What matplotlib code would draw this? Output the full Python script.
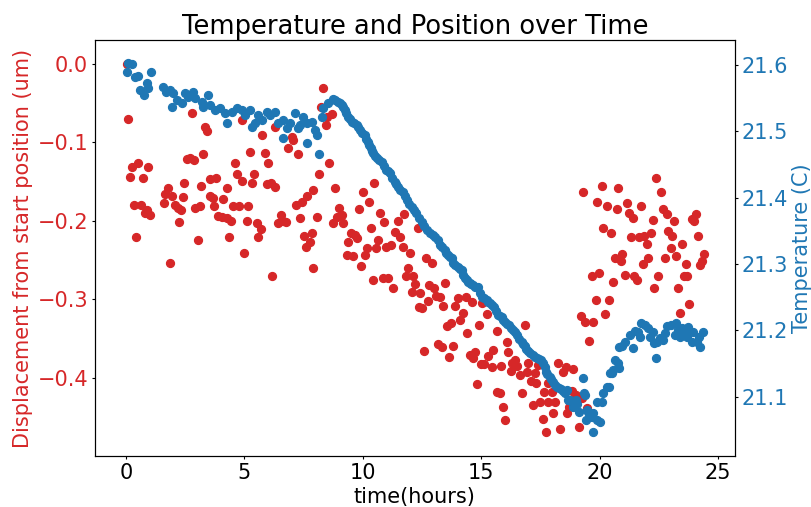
#!/usr/bin/env python3
"""Displacement and temperature logged over one day, on twin y axes."""

import matplotlib

matplotlib.use("Agg")
import matplotlib.pyplot as plt


# ---------------------------------------------------------------------------
# Data read off the logged run.
# ---------------------------------------------------------------------------
disp_time_h = [
    0.04, 0.08, 0.17, 0.25, 0.34, 0.42, 0.51, 0.63, 0.72, 0.80, 0.89, 0.93, 1.01,
    1.60, 1.65, 1.77, 1.86, 1.94, 2.07, 2.20, 2.24, 2.32, 2.41, 2.45, 2.57, 2.70,
    2.79, 2.87, 2.91, 3.04, 3.12, 3.17, 3.25, 3.33, 3.42, 3.55, 3.55, 3.67, 3.71,
    3.80, 3.88, 4.05, 4.09, 4.26, 4.26, 4.35, 4.43, 4.52, 4.60, 4.69, 4.77, 4.90,
    4.90, 4.98, 5.11, 5.15, 5.23, 5.32, 5.40, 5.53, 5.57, 5.70, 5.74, 5.87, 5.95,
    5.99, 6.12, 6.16, 6.29, 6.29, 6.42, 6.54, 6.63, 6.75, 6.84, 7.01, 7.05, 7.18,
    7.26, 7.34, 7.43, 7.51, 7.60, 7.64, 7.77, 7.85, 7.89, 7.89, 8.06, 8.15, 8.23,
    8.32, 8.44, 8.48, 8.57, 8.70, 8.74, 8.82, 8.91, 8.99, 9.12, 9.16, 9.33, 9.37,
    9.50, 9.58, 9.67, 9.75, 9.84, 9.92, 10.01, 10.09, 10.17, 10.26, 10.34, 10.43,
    10.47, 10.55, 10.64, 10.72, 10.85, 10.89, 10.98, 11.06, 11.19, 11.27, 11.35,
    11.48, 11.57, 11.69, 11.73, 11.82, 11.90, 11.99, 12.07, 12.11, 12.20, 12.33,
    12.37, 12.41, 12.49, 12.58, 12.66, 12.75, 12.79, 12.92, 13.00, 13.09, 13.17,
    13.25, 13.34, 13.38, 13.47, 13.55, 13.63, 13.72, 13.80, 13.89, 14.01, 14.10,
    14.23, 14.35, 14.39, 14.52, 14.61, 14.65, 14.73, 14.82, 14.90, 14.99, 15.03,
    15.11, 15.24, 15.28, 15.45, 15.49, 15.66, 15.66, 15.79, 15.83, 15.91, 16.00,
    16.08, 16.12, 16.25, 16.29, 16.42, 16.50, 16.63, 16.72, 16.84, 16.93, 16.97,
    17.10, 17.18, 17.26, 17.31, 17.39, 17.48, 17.60, 17.65, 17.73, 17.81, 17.81,
    17.98, 18.02, 18.11, 18.24, 18.32, 18.45, 18.57, 18.62, 18.70, 18.83, 18.87,
    19.00, 19.12, 19.21, 19.25, 19.29, 19.38, 19.46, 19.54, 19.67, 19.71, 19.84,
    19.88, 19.97, 20.09, 20.13, 20.22, 20.30, 20.39, 20.47, 20.56, 20.64, 20.73,
    20.77, 20.90, 20.94, 21.07, 21.15, 21.23, 21.32, 21.40, 21.44, 21.57, 21.66,
    21.74, 21.82, 21.87, 21.99, 22.04, 22.16, 22.25, 22.29, 22.37, 22.46, 22.59,
    22.67, 22.75, 22.84, 22.88, 23.01, 23.05, 23.13, 23.22, 23.30, 23.39, 23.47,
    23.55, 23.64, 23.68, 23.76, 23.89, 23.97, 24.06, 24.14, 24.23, 24.31, 24.40,
]

displacement_um = [
    0.000, -0.070, -0.144, -0.131, -0.180, -0.221, -0.126, -0.180, -0.145, -0.190,
    -0.186, -0.131, -0.193, -0.177, -0.166, -0.158, -0.254, -0.168, -0.180, -0.184,
    -0.202, -0.186, -0.170, -0.152, -0.121, -0.120, -0.063, -0.123, -0.184, -0.224,
    -0.181, -0.156, -0.115, -0.081, -0.086, -0.147, -0.168, -0.171, -0.181, -0.145,
    -0.194, -0.195, -0.172, -0.158, -0.196, -0.221, -0.200, -0.181, -0.126, -0.140,
    -0.181, -0.072, -0.149, -0.241, -0.200, -0.181, -0.112, -0.152, -0.140, -0.203,
    -0.221, -0.210, -0.091, -0.114, -0.153, -0.126, -0.152, -0.270, -0.081, -0.157,
    -0.203, -0.193, -0.200, -0.202, -0.107, -0.093, -0.097, -0.180, -0.115, -0.196,
    -0.176, -0.219, -0.233, -0.168, -0.227, -0.216, -0.161, -0.260, -0.195, -0.140,
    -0.055, -0.031, -0.078, -0.068, -0.126, -0.064, -0.203, -0.158, -0.195, -0.184,
    -0.193, -0.203, -0.244, -0.227, -0.216, -0.245, -0.218, -0.222, -0.185, -0.257,
    -0.163, -0.244, -0.235, -0.176, -0.209, -0.275, -0.152, -0.235, -0.224, -0.190,
    -0.273, -0.202, -0.233, -0.273, -0.231, -0.286, -0.214, -0.200, -0.221, -0.233,
    -0.191, -0.271, -0.260, -0.241, -0.291, -0.271, -0.281, -0.209, -0.310, -0.292,
    -0.311, -0.366, -0.247, -0.302, -0.282, -0.254, -0.286, -0.296, -0.357, -0.297,
    -0.361, -0.308, -0.279, -0.334, -0.373, -0.330, -0.359, -0.308, -0.298, -0.326,
    -0.317, -0.297, -0.343, -0.371, -0.303, -0.375, -0.367, -0.408, -0.333, -0.382,
    -0.305, -0.383, -0.319, -0.372, -0.386, -0.365, -0.340, -0.418, -0.419, -0.385,
    -0.437, -0.454, -0.354, -0.367, -0.391, -0.381, -0.377, -0.385, -0.396, -0.419,
    -0.333, -0.393, -0.381, -0.404, -0.435, -0.394, -0.407, -0.384, -0.431, -0.452,
    -0.418, -0.469, -0.407, -0.431, -0.418, -0.445, -0.431, -0.381, -0.465, -0.393,
    -0.386, -0.445, -0.437, -0.417, -0.389, -0.422, -0.463, -0.321, -0.426, -0.163,
    -0.329, -0.438, -0.353, -0.270, -0.329, -0.301, -0.176, -0.267, -0.156, -0.209,
    -0.319, -0.181, -0.301, -0.216, -0.278, -0.247, -0.185, -0.158, -0.251, -0.242,
    -0.269, -0.177, -0.190, -0.221, -0.196, -0.271, -0.275, -0.221, -0.181, -0.255,
    -0.219, -0.230, -0.247, -0.216, -0.199, -0.286, -0.145, -0.270, -0.163, -0.185,
    -0.247, -0.191, -0.213, -0.235, -0.219, -0.200, -0.245, -0.286, -0.317, -0.230,
    -0.270, -0.255, -0.270, -0.306, -0.198, -0.200, -0.191, -0.219, -0.256, -0.251,
    -0.242,
]

temp_time_h = [
    0.04, 0.08, 0.25, 0.38, 0.51, 0.59, 0.76, 0.89, 0.93, 1.06, 1.56, 1.69, 1.86,
    1.94, 1.98, 2.15, 2.36, 2.49, 2.62, 2.83, 2.91, 3.21, 3.25, 3.46, 3.55, 3.76,
    3.97, 4.18, 4.26, 4.47, 4.69, 4.90, 5.02, 5.23, 5.32, 5.45, 5.57, 5.74, 5.95,
    6.08, 6.29, 6.42, 6.63, 6.63, 6.80, 6.92, 7.13, 7.26, 7.34, 7.47, 7.64, 7.64,
    7.85, 7.98, 8.06, 8.15, 8.27, 8.32, 8.53, 8.74, 8.84, 8.95, 9.03, 9.12, 9.18,
    9.24, 9.30, 9.37, 9.45, 9.54, 9.64, 9.75, 9.81, 9.88, 9.98, 10.09, 10.15,
    10.22, 10.28, 10.34, 10.39, 10.43, 10.51, 10.60, 10.70, 10.81, 10.90, 10.98,
    11.06, 11.14, 11.25, 11.35, 11.41, 11.48, 11.58, 11.69, 11.77, 11.86, 11.96,
    12.07, 12.15, 12.24, 12.36, 12.49, 12.60, 12.71, 12.83, 12.96, 13.06, 13.17,
    13.25, 13.36, 13.47, 13.53, 13.59, 13.68, 13.76, 13.80, 13.90, 14.01, 14.10,
    14.18, 14.23, 14.31, 14.39, 14.45, 14.52, 14.58, 14.65, 14.75, 14.86, 14.94,
    15.03, 15.13, 15.24, 15.30, 15.37, 15.45, 15.53, 15.61, 15.70, 15.78, 15.87,
    15.94, 16.00, 16.08, 16.17, 16.25, 16.34, 16.42, 16.50, 16.61, 16.72, 16.78,
    16.84, 16.90, 16.97, 17.07, 17.18, 17.26, 17.35, 17.43, 17.52, 17.60, 17.69,
    17.73, 17.80, 17.90, 17.96, 18.02, 18.10, 18.19, 18.28, 18.36, 18.44, 18.53,
    18.62, 18.66, 18.74, 18.87, 18.87, 19.00, 19.04, 19.12, 19.29, 19.33, 19.38,
    19.42, 19.46, 19.50, 19.54, 19.67, 19.71, 19.71, 19.88, 19.88, 20.01, 20.09,
    20.13, 20.30, 20.39, 20.43, 20.52, 20.56, 20.64, 20.77, 20.81, 20.81, 20.94,
    21.07, 21.27, 21.40, 21.49, 21.61, 21.70, 21.74, 21.91, 22.04, 22.12, 22.25,
    22.29, 22.37, 22.42, 22.54, 22.67, 22.75, 22.84, 23.01, 23.18, 23.22, 23.30,
    23.39, 23.47, 23.60, 23.68, 23.72, 23.89, 23.93, 24.10, 24.18, 24.23, 24.35,
]

temperature_c = [
    21.589, 21.603, 21.602, 21.582, 21.583, 21.562, 21.555, 21.573, 21.565, 21.589,
    21.567, 21.559, 21.562, 21.537, 21.558, 21.547, 21.543, 21.558, 21.552, 21.559,
    21.550, 21.544, 21.537, 21.555, 21.540, 21.532, 21.535, 21.528, 21.513, 21.529,
    21.535, 21.532, 21.525, 21.532, 21.507, 21.513, 21.525, 21.517, 21.529, 21.525,
    21.529, 21.513, 21.517, 21.490, 21.505, 21.513, 21.528, 21.505, 21.510, 21.522,
    21.513, 21.482, 21.514, 21.502, 21.494, 21.466, 21.522, 21.535, 21.543, 21.549,
    21.547, 21.544, 21.543, 21.540, 21.536, 21.532, 21.527, 21.522, 21.518, 21.514,
    21.512, 21.510, 21.506, 21.502, 21.498, 21.494, 21.489, 21.484, 21.479, 21.475,
    21.471, 21.467, 21.463, 21.460, 21.457, 21.454, 21.448, 21.442, 21.440, 21.437,
    21.430, 21.424, 21.420, 21.416, 21.412, 21.409, 21.402, 21.396, 21.391, 21.386,
    21.381, 21.377, 21.370, 21.363, 21.357, 21.351, 21.347, 21.344, 21.340, 21.336,
    21.329, 21.325, 21.321, 21.317, 21.314, 21.311, 21.309, 21.301, 21.298, 21.295,
    21.293, 21.291, 21.283, 21.279, 21.276, 21.273, 21.271, 21.270, 21.268, 21.266,
    21.265, 21.257, 21.250, 21.248, 21.246, 21.243, 21.241, 21.238, 21.235, 21.229,
    21.223, 21.221, 21.220, 21.216, 21.213, 21.210, 21.208, 21.204, 21.201, 21.197,
    21.193, 21.187, 21.182, 21.179, 21.176, 21.172, 21.169, 21.166, 21.163, 21.160,
    21.158, 21.156, 21.155, 21.150, 21.145, 21.137, 21.134, 21.130, 21.126, 21.122,
    21.118, 21.115, 21.113, 21.112, 21.109, 21.106, 21.110, 21.095, 21.095, 21.090,
    21.084, 21.095, 21.089, 21.077, 21.128, 21.106, 21.102, 21.065, 21.080, 21.077,
    21.069, 21.069, 21.075, 21.047, 21.092, 21.065, 21.062, 21.092, 21.106, 21.115,
    21.115, 21.136, 21.136, 21.140, 21.155, 21.151, 21.143, 21.175, 21.176, 21.182,
    21.193, 21.173, 21.199, 21.197, 21.190, 21.211, 21.208, 21.204, 21.190, 21.197,
    21.181, 21.158, 21.182, 21.188, 21.185, 21.196, 21.207, 21.208, 21.193, 21.211,
    21.201, 21.190, 21.204, 21.197, 21.190, 21.205, 21.182, 21.197, 21.182, 21.190,
    21.175, 21.197,
]

DISP_COLOR = "tab:red"
TEMP_COLOR = "tab:blue"
FONT_SIZE = 15
MARKER_SIZE = 32
# the original was drawn at 72 dpi, so ticks and paddings are a bit tighter
TICK_LEN = 2.5
TICK_PAD = 2.5
LABEL_PAD = 2.9


def make_plot(output_path: str) -> None:
    fig = plt.figure(figsize=(8.11, 5.07), dpi=100)
    ax_disp = fig.add_axes([0.117, 0.1006, 0.789, 0.8205])

    ax_disp.scatter(disp_time_h, displacement_um, s=MARKER_SIZE, color=DISP_COLOR)
    ax_disp.set_xlabel("time(hours)", fontsize=FONT_SIZE, labelpad=LABEL_PAD)
    ax_disp.set_ylabel(
        "Displacement from start position (um)",
        color=DISP_COLOR,
        fontsize=FONT_SIZE,
        labelpad=LABEL_PAD,
    )
    ax_disp.tick_params(
        axis="y", labelcolor=DISP_COLOR, labelsize=FONT_SIZE,
        length=TICK_LEN, pad=TICK_PAD,
    )
    ax_disp.tick_params(axis="x", labelsize=FONT_SIZE, length=TICK_LEN, pad=TICK_PAD)
    ax_disp.set_xlim(-1.31, 25.71)
    ax_disp.set_ylim(-0.4997, 0.0303)
    ax_disp.set_xticks([0, 5, 10, 15, 20, 25])
    ax_disp.set_yticks([0.0, -0.1, -0.2, -0.3, -0.4])

    ax_temp = ax_disp.twinx()
    ax_temp.scatter(temp_time_h, temperature_c, s=MARKER_SIZE, color=TEMP_COLOR)
    ax_temp.set_ylabel(
        "Temperature (C)", color=TEMP_COLOR, fontsize=FONT_SIZE, labelpad=LABEL_PAD
    )
    ax_temp.tick_params(
        axis="y", labelcolor=TEMP_COLOR, labelsize=FONT_SIZE,
        length=TICK_LEN, pad=TICK_PAD,
    )
    ax_temp.set_ylim(21.0105, 21.6377)
    ax_temp.set_yticks([21.1, 21.2, 21.3, 21.4, 21.5, 21.6])

    ax_disp.set_title("Temperature and Position over Time", fontsize=18.5, pad=4.3)

    fig.savefig(output_path, dpi=100)
    plt.close(fig)


def main() -> None:
    make_plot("out.png")


if __name__ == "__main__":
    main()
